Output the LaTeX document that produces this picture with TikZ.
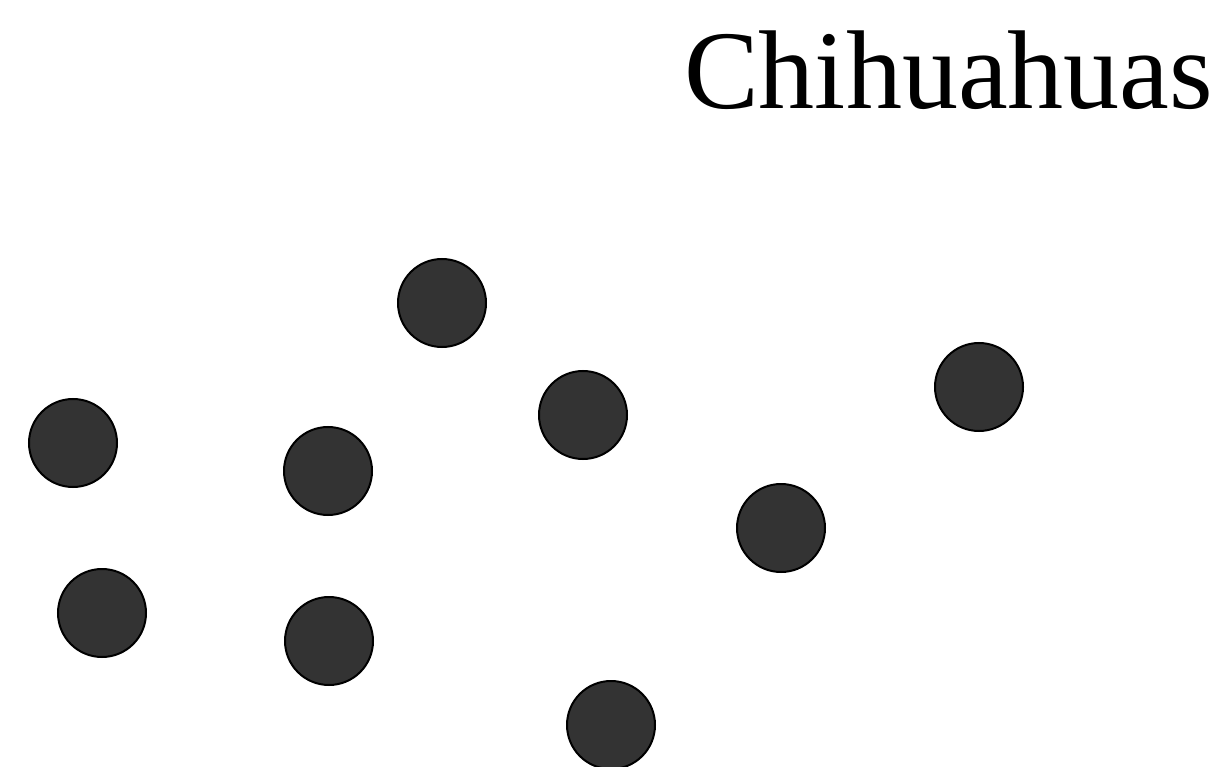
\documentclass[tikz,border=0pt]{standalone}
\usepackage{fontspec}
\setmainfont{Liberation Serif}
\definecolor{dotfill}{HTML}{333333}
\begin{document}
\begin{tikzpicture}[x=1pt,y=-1pt,
  dot/.style={circle,fill=dotfill,draw=black,line width=2pt,minimum size=88pt,inner sep=0pt}]
\useasboundingbox[fill=white] (0,0) rectangle (1229,767);
\node[anchor=base west,inner sep=0pt,font=\fontsize{112}{112}\selectfont] (title) at (684,109) {Chihuahuas};
\node[dot] (d1) at (442,303) {};
\node[dot] (d2) at (583,415) {};
\node[dot] (d3) at (979,387) {};
\node[dot] (d4) at (73,443) {};
\node[dot] (d5) at (328,471) {};
\node[dot] (d6) at (781,528) {};
\node[dot] (d7) at (102,613) {};
\node[dot] (d8) at (329,641) {};
\node[dot] (d9) at (611,725) {};
\end{tikzpicture}
\end{document}
